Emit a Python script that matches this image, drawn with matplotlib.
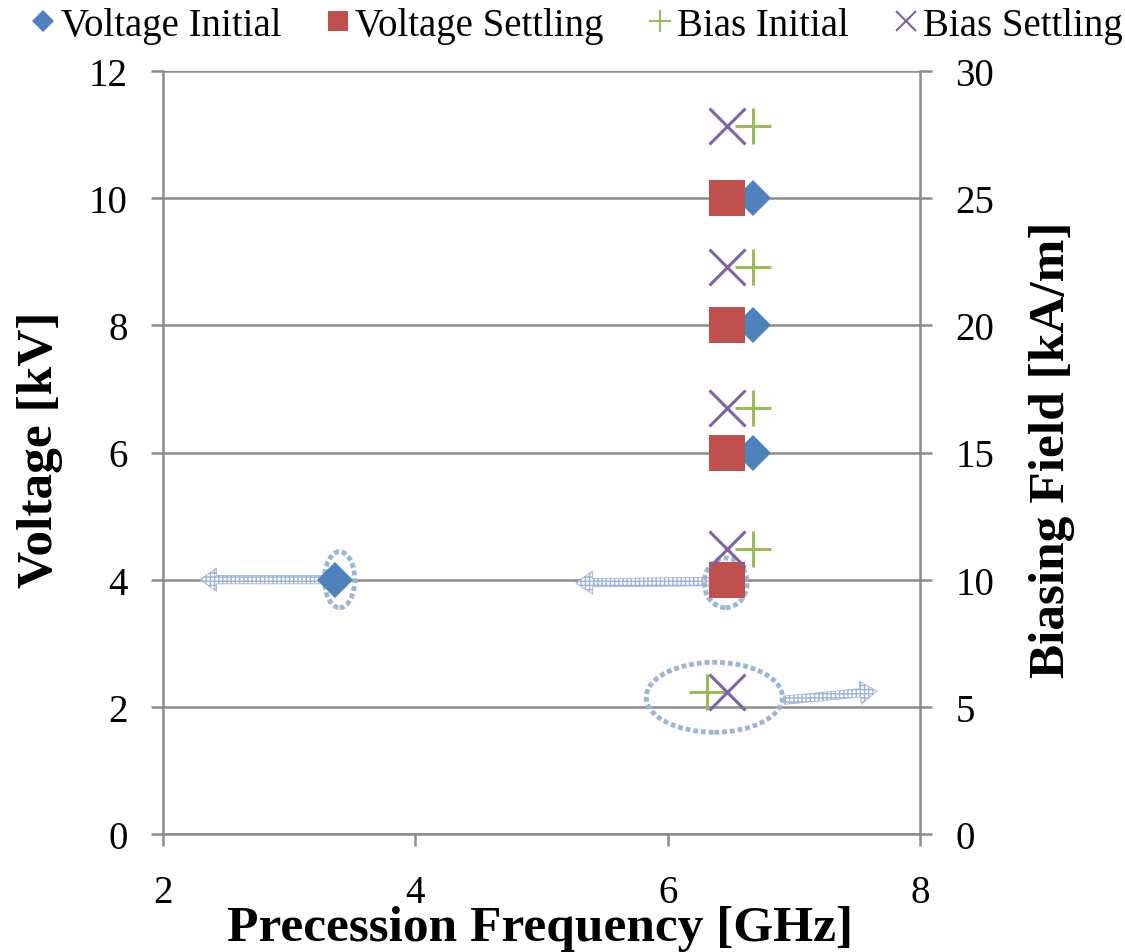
import matplotlib
matplotlib.use('Agg')
import matplotlib.pyplot as plt
from matplotlib.patches import Ellipse, FancyArrowPatch
from matplotlib.lines import Line2D

# data
volt = [4, 6, 8, 10]
freq_volt_init = [3.36, 6.68, 6.68, 6.68]
freq_volt_settle = [6.47, 6.47, 6.47, 6.47]
bias = [5.6, 11.2, 16.75, 22.3, 27.85]
freq_bias_init = [6.31, 6.68, 6.68, 6.68, 6.68]
freq_bias_settle = [6.47, 6.47, 6.47, 6.47, 6.47]

x_ticks = [2, 4, 6, 8]
v_ticks = [0, 2, 4, 6, 8, 10, 12]
b_ticks = [0, 5, 10, 15, 20, 25, 30]

c_blue = '#4F81BD'
c_red = '#C0504D'
c_green = '#9BBB59'
c_purple = '#8064A2'
c_grey = '#8C8C8C'
c_note = '#9DB6D6'

plt.rcParams['font.family'] = ['Liberation Serif', 'DejaVu Serif']

fig = plt.figure(figsize=(11.25, 9.53), dpi=100)
ax = fig.add_axes([163/1125, 118/953, 757/1125, 763/953])
ax2 = ax.twinx()

ax.set_xlim(2, 8)
ax.set_ylim(0, 12)
ax2.set_ylim(0, 30)
ax.set_xticks(x_ticks)
ax.set_yticks(v_ticks)
ax2.set_yticks(b_ticks)

for a in (ax, ax2):
    for s in a.spines.values():
        s.set_visible(False)
    a.tick_params(colors=c_grey, labelcolor='black', labelsize=28,
                  direction='out', length=8.5, width=1.8)
ax.spines['left'].set_visible(True)
ax.spines['bottom'].set_visible(True)
ax2.spines['right'].set_visible(True)
for s in (ax.spines['left'], ax.spines['bottom'], ax2.spines['right']):
    s.set_color(c_grey)
    s.set_linewidth(1.8)
ax.tick_params(axis='y', pad=17)
ax2.tick_params(axis='y', pad=17)
ax.tick_params(axis='x', pad=20)

ax.yaxis.grid(True, color=c_grey, linewidth=1.8)
ax.set_axisbelow(True)

# annotations (hatched arrows and dotted ellipses)
def hatched_arrow(a, p0, p1):
    arr = FancyArrowPatch(p0, p1, arrowstyle='simple,head_width=1.4,head_length=1.0,tail_width=0.5',
                          mutation_scale=12, facecolor='white', edgecolor=c_note,
                          hatch='++++', linewidth=0.6, zorder=1.5)
    a.add_patch(arr)

hatched_arrow(ax, (3.28, 4.0), (2.27, 4.0))
hatched_arrow(ax, (6.35, 3.97), (5.25, 3.95))
hatched_arrow(ax, (6.90, 2.1), (7.68, 2.25))

for (cx, cy, w, h) in [(3.40, 4.0, 0.24, 0.88), (6.46, 3.95, 0.34, 0.78), (6.37, 2.15, 1.08, 1.1)]:
    ax.add_patch(Ellipse((cx, cy), w, h, fill=False, edgecolor=c_note,
                         linestyle=(0, (1, 0.6)), linewidth=3.5, zorder=1.6))

ax.plot(freq_volt_init, volt, linestyle='none', marker='D', markersize=18.5,
        color=c_blue, markeredgewidth=0, zorder=3)
ax.plot(freq_volt_settle, volt, linestyle='none', marker='s', markersize=26.5,
        color=c_red, markeredgewidth=0, zorder=4)
ax2.plot(freq_bias_init, bias, linestyle='none', marker='+', markersize=26,
         color=c_green, markeredgewidth=2.2, zorder=5)
ax2.plot(freq_bias_settle, bias, linestyle='none', marker='x', markersize=26,
         color=c_purple, markeredgewidth=2.2, zorder=5)

fig.text(40/1125, 1 - 450/953, 'Voltage [kV]', rotation=90, ha='center', va='center',
         fontsize=37, fontweight='bold')
fig.text(1052/1125, 1 - 450/953, 'Biasing Field [kA/m]', rotation=90, ha='center', va='center',
         fontsize=37, fontweight='bold')
fig.text(540/1125, 1 - 929/953, 'Precession Frequency [GHz]', ha='center', va='center',
         fontsize=37, fontweight='bold')

handles = [
    Line2D([], [], linestyle='none', marker='D', markersize=11, color=c_blue, markeredgewidth=0),
    Line2D([], [], linestyle='none', marker='s', markersize=15, color=c_red, markeredgewidth=0),
    Line2D([], [], linestyle='none', marker='+', markersize=16, color=c_green, markeredgewidth=1.5),
    Line2D([], [], linestyle='none', marker='x', markersize=15, color=c_purple, markeredgewidth=1.5),
]
labels = ['Voltage Initial', 'Voltage Settling', 'Bias Initial', 'Bias Settling']
fig.legend(handles, labels, loc='upper center', bbox_to_anchor=(0.513, 1.008), ncol=4,
           frameon=False, fontsize=28, handlelength=0.6, handletextpad=0.15,
           columnspacing=1.15, borderaxespad=0.0)

plt.savefig('out.png', dpi=100)
